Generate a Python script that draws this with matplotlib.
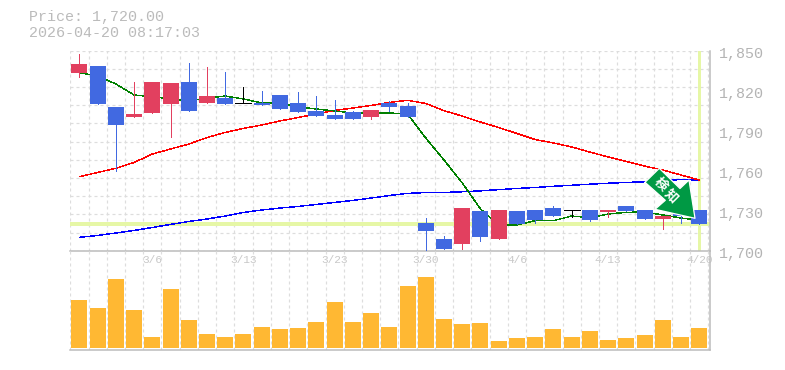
import matplotlib
matplotlib.use("Agg")
import matplotlib.pyplot as plt
from matplotlib.patches import Polygon
from matplotlib.transforms import Affine2D, ScaledTranslation
import numpy as np

plt.rcParams['font.family'] = ['Liberation Mono', 'Noto Sans CJK JP', 'DejaVu Sans']

opens = [1833.5,1838.5,1807.8,1800.3,1803.3,1810.0,1826.5,1810.8,1814.5,1810.5,1810.8,1816.8,1810.8,1804.8,1801.8,1804.0,1800.3,1810.8,1808.5,1720.8,1708.8,1705.0,1729.8,1708.8,1729.8,1730.5,1732.0,1730.3,1730.5,1729.0,1733.5,1730.5,1723.8,1732.0,1730.5]
closes = [1840.0,1810.0,1794.3,1802.5,1826.5,1825.8,1804.8,1816.0,1810.0,1810.5,1809.3,1806.3,1804.0,1801.0,1798.8,1798.8,1805.5,1807.8,1800.3,1714.8,1701.3,1732.0,1710.3,1730.5,1720.0,1723.0,1726.0,1730.3,1723.0,1730.5,1729.8,1723.8,1726.0,1726.0,1720.0]
highs = [1847.5,1838.5,1807.8,1826.5,1826.5,1825.8,1840.8,1837.8,1834.0,1822.8,1819.8,1816.8,1819.0,1816.0,1813.0,1804.8,1805.5,1812.3,1810.8,1724.5,1711.0,1732.0,1729.8,1730.5,1729.8,1730.5,1733.5,1730.3,1730.5,1730.5,1733.5,1730.5,1726.0,1732.0,1730.5]
lows = [1830.5,1810.0,1760.0,1800.3,1803.3,1785.5,1804.8,1810.8,1810.0,1810.5,1809.3,1806.3,1804.0,1801.0,1798.8,1798.8,1798.8,1804.8,1800.3,1700.0,1701.3,1701.3,1707.3,1708.8,1720.0,1720.8,1726.0,1725.3,1722.3,1725.3,1729.8,1723.8,1716.3,1720.8,1720.0]
ma_short = [1833.5,1831.0,1825.0,1816.8,1815.5,1813.8,1812.3,1814.5,1816.0,1813.8,1810.8,1810.8,1807.8,1806.3,1804.8,1803.3,1803.3,1803.3,1802.5,1784.5,1768.0,1750.8,1731.3,1719.3,1719.3,1722.5,1722.5,1726.0,1724.8,1727.5,1728.8,1729.0,1726.8,1724.5,1723.0]
ma_mid = [1755.5,1758.7,1761.8,1766.2,1772.5,1776.3,1780.0,1784.9,1788.7,1791.7,1794.3,1797.3,1799.9,1802.5,1805.2,1807.0,1808.9,1811.2,1812.8,1810.4,1805.0,1801.0,1796.5,1792.4,1787.9,1783.4,1780.8,1777.8,1774.0,1770.3,1766.9,1763.5,1760.5,1756.8,1753.0]
ma_long = [1710.0,1711.4,1713.3,1715.2,1717.4,1719.7,1721.9,1723.8,1726.0,1728.7,1730.5,1732.0,1733.2,1734.7,1736.2,1737.7,1739.5,1741.4,1743.0,1743.6,1743.7,1744.2,1744.9,1745.8,1746.7,1747.4,1748.3,1749.1,1749.9,1750.6,1751.2,1751.7,1752.4,1753.4,1753.0]
volumes = [48,40,69,38,11,59,28,14,11,14,21,19,20,26,46,26,35,21,62,71,29,24,25,7,10,11,19,11,17,8,10,13,28,11,20]
date_pos = [4,9,14,19,24,29,34]
date_labels = ['3/6','3/13','3/23','3/30','4/6','4/13','4/20']
price_ticks = [1700,1730,1760,1790,1820,1850]
price_labels = ['1,700','1,730','1,760','1,790','1,820','1,850']
current_price = 1720.0
title_lines = ['Price: 1,720.00','2026-04-20 08:17:03']
badge_chars = ['検','知']

W, H = 785, 370
UP, DOWN, FLAT = '#E2405F', '#4169E1', '#000000'
GRID, AXIS, TEXT = '#DDDDDD', '#BBBBBB', '#BBBBBB'
PX = 0.72

L, R = 70.3, 710.0
STEP = 18.23
fig = plt.figure(figsize=(W/100, H/100), dpi=100, facecolor='white')
ax = fig.add_axes([L/W, (H-250.7)/H, (R-L)/W, 200/H], facecolor='none')
vx = fig.add_axes([L/W, (H-350)/H, (R-L)/W, 99.3/H], facecolor='none', sharex=ax)

n = len(opens)
x = np.arange(n)
xmin, xmax = -0.5, -0.5 + (R-L)/STEP
edges = np.arange(n+1) - 0.5

for a in (ax, vx):
    a.set_xlim(xmin, xmax)
    a.set_axisbelow(True)
    for s in a.spines.values():
        s.set_visible(False)
    a.spines['right'].set_visible(True)
    a.spines['right'].set_color(AXIS)
    a.spines['right'].set_linewidth(1.5*PX)
    a.spines['bottom'].set_visible(True)
    a.spines['bottom'].set_color(AXIS)
    a.spines['bottom'].set_linewidth(1.5*PX)
    a.set_xticks(edges, minor=True)
    a.grid(True, which='minor', axis='x', color=GRID, lw=1.2*PX, ls=(0, (2.5, 2.5)))
    a.tick_params(which='both', length=0)

# price panel
ax.set_ylim(1700, 1850)
ax.yaxis.remove_overlapping_locs = False
ax.set_yticks(price_ticks)
ax.set_yticklabels(price_labels)
ax.set_yticks(np.linspace(1700, 1850, 12), minor=True)
ax.grid(True, which='minor', axis='y', color=GRID, lw=1.2*PX, ls=(0, (2.5, 2.5)))
ax.yaxis.tick_right()
ax.tick_params(axis='y', which='major', labelsize=10.8, labelcolor='#B4B4B4', pad=6.2, length=0)
ax.tick_params(axis='y', which='minor', length=0)
shift = ScaledTranslation(0, -1.6/100, fig.dpi_scale_trans)
for lab in ax.get_yticklabels():
    lab.set_transform(lab.get_transform() + shift)
ax.set_xticks(date_pos)
ax.set_xticklabels(date_labels)
ax.tick_params(axis='x', which='major', labelsize=8.0, labelcolor='#C8C8C8', pad=3.0, length=0)

ax.axhline(current_price, color='#E6F7A6', lw=4*PX, zorder=1.5, antialiased=False)
ax.axvline(x[-1], ymin=0.008, color='#E6F7A6', lw=3*PX, zorder=1.5, antialiased=False)

for vals, c in ((ma_long, '#0000FF'), (ma_mid, '#FF0000'), (ma_short, '#008000')):
    ax.plot(x, vals, color=c, lw=0.3, zorder=2, antialiased=False, solid_joinstyle='miter')

w = 16/STEP
for i in x:
    o, c, h, l = opens[i], closes[i], highs[i], lows[i]
    col = UP if c > o else DOWN if c < o else FLAT
    ax.vlines(i, l, h, color=col, lw=0.7, zorder=3, antialiased=False)
    if c == o:
        ax.hlines(o, i-w/2, i+w/2, color=col, lw=0.7, zorder=3, antialiased=False)
    else:
        ax.bar(i, abs(c-o), bottom=min(o, c), width=w, color=col, zorder=3, antialiased=False, linewidth=0)

# volume panel
vx.set_ylim(-2, 97.3)
vx.bar(x, volumes, width=w, color='#FFB833', zorder=3, antialiased=False, linewidth=0)
vx.set_yticks([])
vx.tick_params(axis='x', which='major', labelbottom=False)

# header
for t, yy in zip(title_lines, (17.5, 33)):
    fig.text(29/W, 1-yy/H, t, fontsize=10.8, color=TEXT, va='center', ha='left')

# signal arrow (badge, in pixels)
to_px = Affine2D().scale(1, -1).translate(0, H)
arrow_pts = [(659.3,168.3),(680,188.5),(689,180),(695,218.3),(655,209.3),(665.3,200.3),(645,182.3)]
fig.add_artist(Polygon(arrow_pts, closed=True, transform=to_px, facecolor='#009944',
                       edgecolor='white', lw=0.9, joinstyle='round', zorder=10))
for ch, (cx, cy) in zip(badge_chars, ((660.7, 184.3), (671.7, 195.7))):
    fig.text(cx/W, 1-cy/H, ch, rotation=-45, rotation_mode='anchor', ha='center', va='center',
             color='white', fontsize=9.5, fontweight='bold', family=['Noto Sans CJK JP'], zorder=11)

fig.savefig('out.png', dpi=100, facecolor='white')
